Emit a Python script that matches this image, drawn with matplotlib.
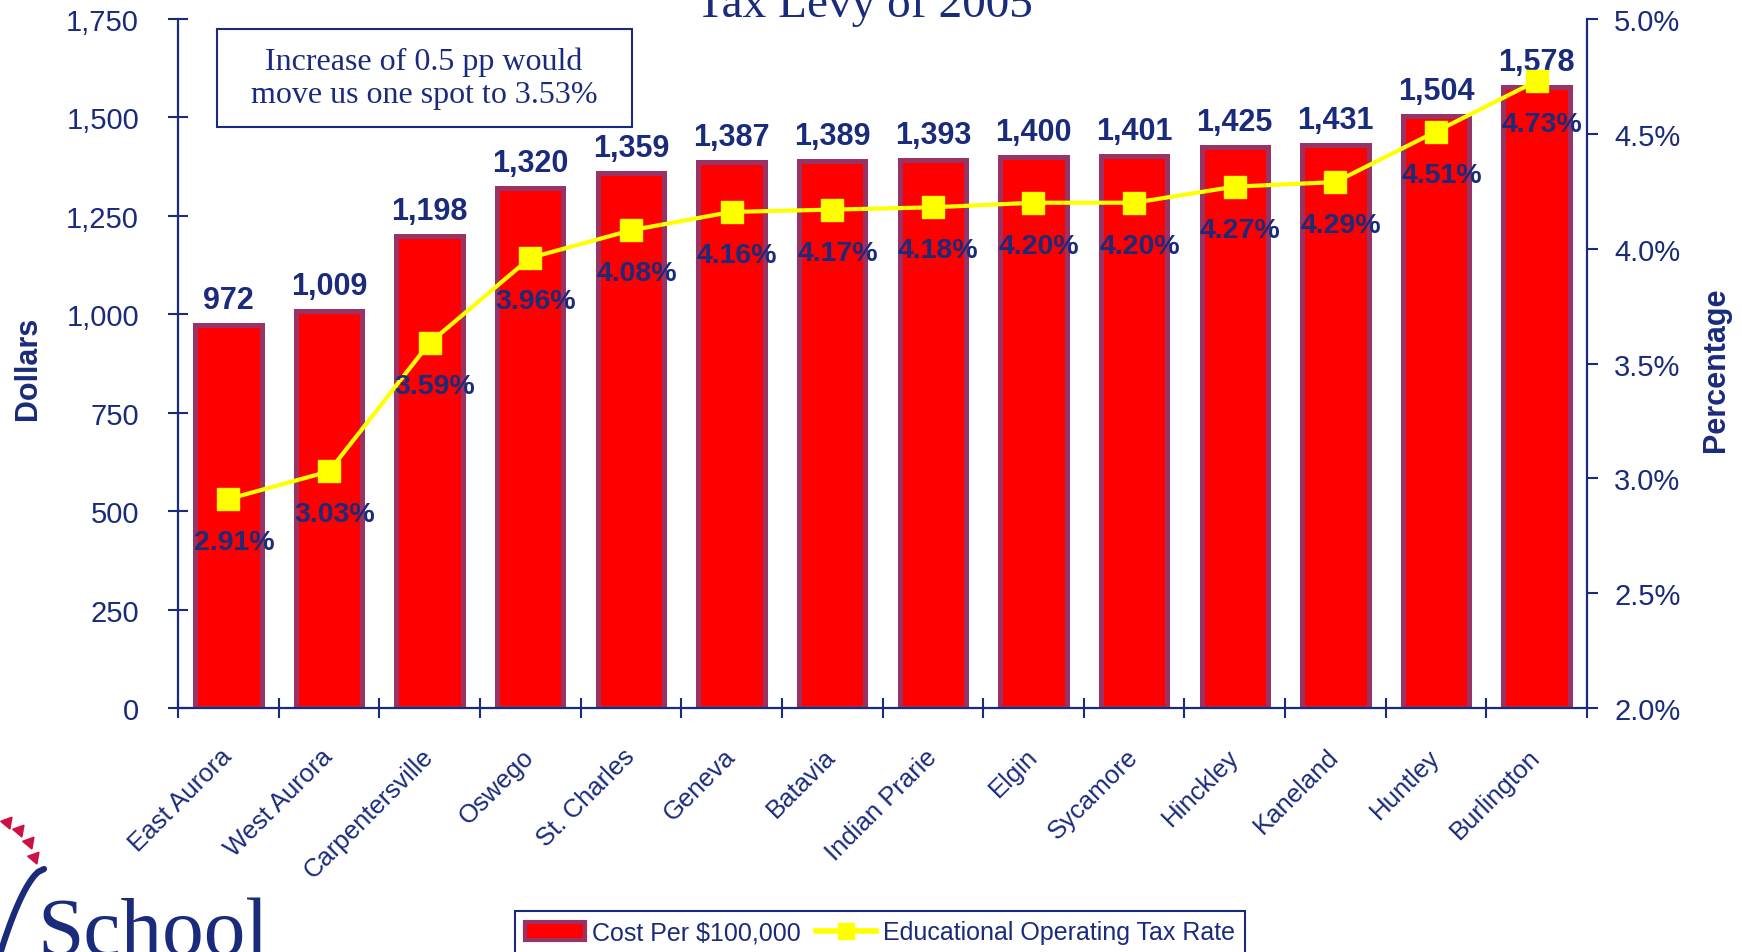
import numpy as np
import matplotlib
matplotlib.use('Agg')
import matplotlib.pyplot as plt
import matplotlib.transforms as mtransforms
from matplotlib.patches import Patch, Rectangle
from matplotlib.lines import Line2D
from matplotlib.ticker import FuncFormatter, FixedLocator

plt.rcParams['font.family'] = ['Liberation Sans', 'DejaVu Sans']

districts = ['East Aurora', 'West Aurora', 'Carpentersville', 'Oswego', 'St. Charles',
             'Geneva', 'Batavia', 'Indian Prarie', 'Elgin', 'Sycamore', 'Hinckley',
             'Kaneland', 'Huntley', 'Burlington']
cost_per_100k = [972, 1009, 1198, 1320, 1359, 1387, 1389, 1393, 1400, 1401, 1425, 1431, 1504, 1578]
tax_rate = [2.91, 3.03, 3.59, 3.96, 4.08, 4.16, 4.17, 4.18, 4.20, 4.20, 4.27, 4.29, 4.51, 4.73]
dollar_ticks = [0, 250, 500, 750, 1000, 1250, 1500, 1750]
pct_ticks = [2.0, 2.5, 3.0, 3.5, 4.0, 4.5, 5.0]

navy = '#1a2b7b'
W, H = 1742, 953

fig = plt.figure(figsize=(W / 100, H / 100), dpi=100)
ax = fig.add_axes([178 / W, 1 - 709 / H, (1587 - 178) / W, (709 - 20) / H])
ax2 = ax.twinx()

x = np.arange(len(districts))
ax.bar(x, cost_per_100k, width=0.66, color='#ff0000', edgecolor='#993366', linewidth=3.6)
ax.set_xlim(-0.5, len(districts) - 0.5)
ax.set_ylim(0, 1750)
ax.set_yticks(dollar_ticks)
ax.yaxis.set_major_formatter(FuncFormatter(lambda v, p: f'{int(v):,}'))

for xi, c in zip(x, cost_per_100k):
    ax.annotate(f'{c:,}', (xi, c), xytext=(0, 18), textcoords='offset points',
                ha='center', va='center', fontsize=22, fontweight='bold', color=navy)

ax2.plot(x, tax_rate, color='#ffff00', lw=3, marker='s', ms=16, mec='#ffff00', zorder=3)
ax2.set_ylim(2.0, 5.0)
ax2.set_yticks(pct_ticks)
ax2.yaxis.set_major_formatter(FuncFormatter(lambda v, p: f'{v:.1f}%'))
for xi, r in zip(x, tax_rate):
    ax2.annotate(f'{r:.2f}%', (xi, r), xytext=(4, -31), textcoords='offset points',
                 ha='center', va='center', fontsize=20.5, fontweight='bold', color=navy)

for s in ['top', 'right']:
    ax.spines[s].set_visible(False)
for s in ['top', 'left', 'bottom']:
    ax2.spines[s].set_visible(False)
for sp in [ax.spines['left'], ax.spines['bottom'], ax2.spines['right']]:
    sp.set_color(navy)
    sp.set_linewidth(1.6)

ax.set_xticks(x)
ax.set_xticklabels(districts, rotation=45, ha='right', va='center', rotation_mode='anchor')
shift = mtransforms.ScaledTranslation(-0.12, -0.02, fig.dpi_scale_trans)
for lab in ax.get_xticklabels():
    lab.set_transform(lab.get_transform() + shift)
ax.xaxis.set_minor_locator(FixedLocator(np.arange(-0.5, len(districts), 1.0)))
ax.tick_params(axis='x', which='major', length=0, pad=32, labelsize=18.5, labelcolor=navy)
ax.tick_params(axis='x', which='minor', direction='inout', length=14, width=1.5, color=navy)
ax.tick_params(axis='y', direction='inout', length=14, width=1.5, color=navy,
               pad=21, labelsize=21, labelcolor=navy)
ax2.tick_params(axis='y', direction='out', length=8, width=1.5, color=navy,
                pad=11.5, labelsize=21, labelcolor=navy)

fig.text(28 / W, 1 - 368 / H, 'Dollars', rotation=90, ha='center', va='center',
         fontsize=22, fontweight='bold', color=navy)
fig.text(1716 / W, 1 - 370 / H, 'Percentage', rotation=90, ha='center', va='center',
         fontsize=22, fontweight='bold', color=navy)

fig.text(864 / W, 1 - 17 / H, 'Tax Levy of 2005', ha='center', va='baseline',
         fontsize=34, color=navy, family='Liberation Serif')

fig.add_artist(Rectangle((217 / W, 1 - 128 / H), (632 - 217) / W, (128 - 30) / H,
                         transform=fig.transFigure, fill=False, edgecolor=navy, lw=1.5))
fig.text(424 / W, 1 - 79 / H, 'Increase of 0.5 pp would\nmove us one spot to 3.53%',
         ha='center', va='center', fontsize=23, color=navy, family='Liberation Serif',
         linespacing=1.2)

handles = [Patch(facecolor='#ff0000', edgecolor='#993366', linewidth=3),
           Line2D([0], [0], color='#ffff00', lw=4, marker='s', ms=12, mec='#ffff00')]
leg = fig.legend(handles, ['Cost Per $100,000', 'Educational Operating Tax Rate'],
                 loc='upper center', bbox_to_anchor=(880 / W, 1 - 899 / H), ncol=2,
                 fontsize=18, frameon=True, fancybox=False, framealpha=1,
                 handlelength=2.4, handletextpad=0.3, columnspacing=0.6, borderpad=0.4)
leg.get_frame().set_edgecolor(navy)
leg.get_frame().set_linewidth(1.5)
for t in leg.get_texts():
    t.set_color(navy)

# logo fragment in the lower left corner
deco = fig.add_axes([0, 0, 1, 1], zorder=-1)
deco.axis('off')
deco.set_xlim(0, W)
deco.set_ylim(H, 0)
for (tx, ty) in [(7, 823), (19, 831), (29, 843), (34, 858)]:
    deco.plot(tx, ty, marker=(3, 0, -40), ms=10, color='#cc1144', mec='#cc1144')
arc_t = np.linspace(0, 1, 30)
deco.plot(44 - 44 * arc_t ** 0.6, 870 + 85 * arc_t, color=navy, lw=4.5,
          solid_capstyle='round')
deco.text(37, 955, 'School', ha='left', va='baseline', fontsize=60, color=navy,
          family='Liberation Serif')

fig.savefig('out.png', dpi=100)
